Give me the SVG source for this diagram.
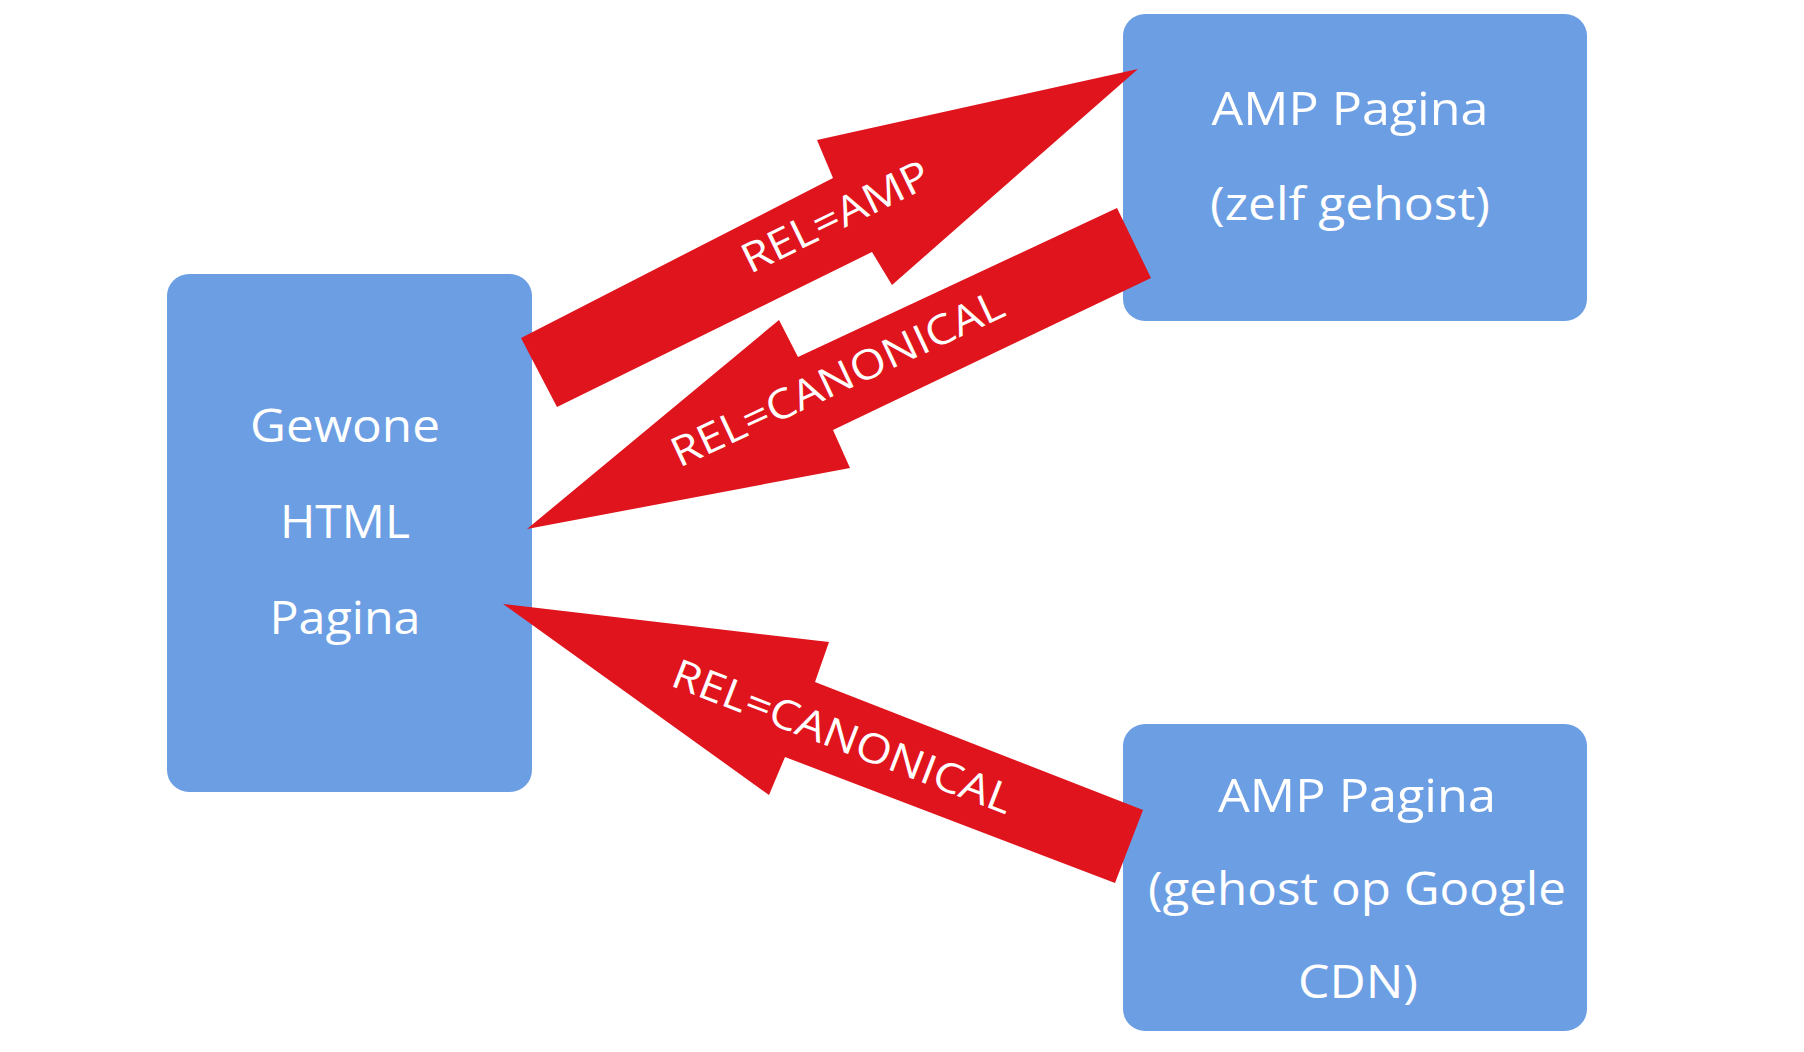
<svg xmlns="http://www.w3.org/2000/svg" width="1804" height="1052" viewBox="0 0 1804 1052">
  <style>
    .box { fill: #6c9ee3; }
    .btxt { fill: #ffffff; font-family: "Open Sans", "Liberation Sans", sans-serif; font-size: 46px; font-weight: 500; text-anchor: middle; }
    .arrow { fill: #e0141c; }
    .ltxt { fill: #ffffff; font-family: "Open Sans", "Liberation Sans", sans-serif; font-size: 41px; font-weight: 500; text-anchor: middle; }
  </style>
  <rect width="1804" height="1052" fill="#ffffff"/>
  <g id="node-html">
    <rect class="box" x="167" y="274" width="365" height="518" rx="22"/>
    <text class="btxt" x="345" y="442" textLength="190" lengthAdjust="spacingAndGlyphs">Gewone</text>
    <text class="btxt" x="345" y="538" textLength="130" lengthAdjust="spacingAndGlyphs">HTML</text>
    <text class="btxt" x="345" y="634" textLength="151" lengthAdjust="spacingAndGlyphs">Pagina</text>
  </g>
  <g id="node-amp-self">
    <rect class="box" x="1123" y="14" width="464" height="307" rx="22"/>
    <text class="btxt" x="1350" y="125" textLength="277" lengthAdjust="spacingAndGlyphs">AMP Pagina</text>
    <text class="btxt" x="1350" y="220" textLength="280" lengthAdjust="spacingAndGlyphs">(zelf gehost)</text>
  </g>
  <g id="node-amp-google">
    <rect class="box" x="1123" y="724" width="464" height="307" rx="22"/>
    <text class="btxt" x="1357" y="812" textLength="278" lengthAdjust="spacingAndGlyphs">AMP Pagina</text>
    <text class="btxt" x="1357" y="905" textLength="418" lengthAdjust="spacingAndGlyphs">(gehost op Google</text>
    <text class="btxt" x="1358" y="998" textLength="120" lengthAdjust="spacingAndGlyphs">CDN)</text>
  </g>
  <g id="connectors">
    <g id="edge-rel-amp">
      <polygon class="arrow" points="521,338 833,178 817,140 1138,69 892,285 872,252 557,407"/>
      <text class="ltxt" transform="translate(835,216) rotate(-26)" x="0" y="15" textLength="204" lengthAdjust="spacingAndGlyphs">REL=AMP</text>
    </g>
    <g id="edge-rel-canonical-1">
      <polygon class="arrow" points="527,529 779,320 798,357 1117,208 1151,278 833,430 850,468"/>
      <text class="ltxt" transform="translate(837,378) rotate(-25)" x="0" y="15" textLength="362" lengthAdjust="spacingAndGlyphs">REL=CANONICAL</text>
    </g>
    <g id="edge-rel-canonical-2">
      <polygon class="arrow" points="503,604 829,642 815,682 1143,810 1115,883 785,757 769,795"/>
      <text class="ltxt" transform="translate(843,736) rotate(21)" x="0" y="15" textLength="361" lengthAdjust="spacingAndGlyphs">REL=CANONICAL</text>
    </g>
  </g>
</svg>
